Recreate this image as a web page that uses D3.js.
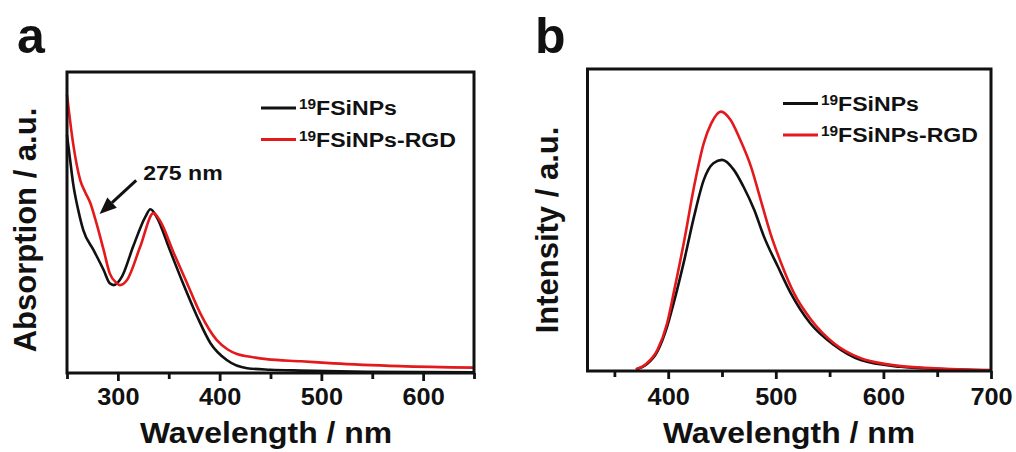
<!DOCTYPE html>
<html>
<head>
<meta charset="utf-8">
<script src="https://cdn.jsdelivr.net/npm/d3@7"></script>
<style>
  body { margin: 0; background: #fff; }
  text { font-family: "Liberation Sans", Arial, sans-serif; font-weight: bold; fill: #111; }
</style>
</head>
<body>
<div id="d3container"></div>
<script>
// panel a: absorption spectra
var absWl1 = [250, 253, 256, 261, 266, 276, 286, 292, 296, 304, 315, 327, 332, 338, 351, 364, 378, 391, 407, 427, 450, 479, 545, 650];
var absVal1 = [0.79, 0.71, 0.63, 0.542, 0.475, 0.409, 0.342, 0.298, 0.292, 0.32, 0.42, 0.519, 0.544, 0.519, 0.409, 0.298, 0.187, 0.099, 0.043, 0.016, 0.011, 0.008, 0.004, 0.002];
var absWl2 = [250, 256, 263, 268, 273, 279, 286, 292, 299, 302, 309, 322, 335, 341, 355, 368, 381, 397, 408, 417, 430, 446, 480, 512, 577, 650];
var absVal2 = [0.924, 0.763, 0.641, 0.6, 0.564, 0.497, 0.409, 0.331, 0.298, 0.292, 0.309, 0.42, 0.531, 0.508, 0.398, 0.298, 0.198, 0.11, 0.078, 0.063, 0.054, 0.046, 0.039, 0.032, 0.023, 0.018];

// panel b: emission spectra
var plWl1 = [370, 380, 390, 399, 405, 415, 424, 433, 442, 450, 461, 470, 480, 489, 502, 514, 532, 554, 579, 616, 650, 700];
var plVal1 = [0.005, 0.022, 0.065, 0.147, 0.224, 0.368, 0.511, 0.632, 0.688, 0.699, 0.666, 0.61, 0.533, 0.445, 0.345, 0.257, 0.158, 0.086, 0.036, 0.014, 0.007, 0.002];
var plWl2 = [370, 380, 390, 399, 405, 415, 424, 433, 440, 449, 458, 467, 477, 486, 495, 505, 517, 533, 554, 579, 604, 647, 700];
var plVal2 = [0.006, 0.025, 0.07, 0.158, 0.257, 0.434, 0.61, 0.754, 0.82, 0.859, 0.831, 0.765, 0.676, 0.566, 0.456, 0.357, 0.257, 0.169, 0.092, 0.042, 0.022, 0.009, 0.003];

var legendSup = '19';
var legendNames = ['FSiNPs', 'FSiNPs-RGD'];
var seriesColors = ['#111111', '#e3191c'];

var ticksA = [300, 400, 500, 600];
var minorA = [250, 350, 450, 550, 650];
var ticksB = [400, 500, 600, 700];
var minorB = [350, 450, 550, 650];

var annotText = '275 nm';
var annotFrom = [318, 0.64];
var annotTo = [282, 0.528];

var xTitle = 'Wavelength / nm';
var yTitles = ['Absorption / a.u.', 'Intensity / a.u.'];
var panelLetters = ['a', 'b'];

var svg = d3.select('#d3container').append('svg')
    .attr('width', 1016)
    .attr('height', 452);

svg.append('rect').attr('width', 1016).attr('height', 452).attr('fill', '#fff');

var stretch = 'scale(1.1,1)';

function zip(xs, ys) {
    return xs.map(function (x, i) { return {x: x, y: ys[i]}; });
}

var panels = [
    {
        left: 67, right: 474, top: 72, bottom: 373, domain: [250, 650],
        ticks: ticksA, minor: minorA,
        series: [zip(absWl1, absVal1), zip(absWl2, absVal2)],
        legendX: 261, legendY: 108, titleX: 36, xTitleX: 266, letterX: 17
    },
    {
        left: 587.5, right: 991, top: 69, bottom: 371, domain: [325, 700],
        ticks: ticksB, minor: minorB,
        series: [zip(plWl1, plVal1), zip(plWl2, plVal2)],
        legendX: 783, legendY: 103.5, titleX: 558, xTitleX: 789, letterX: 535
    }
];

panels.forEach(function (p, k) {
    var x = d3.scaleLinear().domain(p.domain).range([p.left, p.right]);
    var y = d3.scaleLinear().domain([0, 1]).range([p.bottom, p.top]);
    var g = svg.append('g').attr('class', 'panel' + k);

    /*
     minor ticks first, then major ticks with labels
     */
    var minorAxis = d3.axisBottom(x).tickValues(p.minor).tickSize(6).tickFormat('');
    g.append('g')
        .attr('transform', 'translate(0,' + p.bottom + ')')
        .call(minorAxis)
        .call(function (a) { a.select('.domain').remove(); })
        .selectAll('line').attr('stroke', '#111').attr('stroke-width', 2.8);

    var majorAxis = d3.axisBottom(x).tickValues(p.ticks).tickSize(8).tickFormat(d3.format('d'));
    var ax = g.append('g')
        .attr('transform', 'translate(0,' + p.bottom + ')')
        .call(majorAxis);
    ax.select('.domain').remove();
    ax.selectAll('line').attr('stroke', '#111').attr('stroke-width', 2.8);
    ax.selectAll('text')
        .attr('y', 405 - p.bottom)
        .attr('dy', 0)
        .attr('transform', stretch)
        .style('font-size', '23px')
        .style('font-family', '"Liberation Sans", Arial, sans-serif')
        .style('font-weight', 'bold')
        .attr('fill', '#111');

    var line = d3.line()
        .x(function (d) { return x(d.x); })
        .y(function (d) { return y(d.y); })
        .curve(d3.curveMonotoneX);

    p.series.forEach(function (s, i) {
        g.append('path')
            .attr('fill', 'none')
            .attr('stroke', seriesColors[i])
            .attr('stroke-width', 2.6)
            .attr('stroke-linejoin', 'round')
            .attr('d', line(s));
    });

    // frame
    g.append('rect')
        .attr('x', p.left).attr('y', p.top)
        .attr('width', p.right - p.left).attr('height', p.bottom - p.top)
        .attr('fill', 'none').attr('stroke', '#111').attr('stroke-width', 3);

    // legend
    legendNames.forEach(function (name, i) {
        var ly = p.legendY + i * 31.5;
        g.append('line')
            .attr('x1', p.legendX).attr('x2', p.legendX + 35)
            .attr('y1', ly).attr('y2', ly)
            .attr('stroke', seriesColors[i]).attr('stroke-width', 3);
        var t = g.append('text')
            .attr('transform', 'translate(' + (p.legendX + 38) + ',' + (ly + 7) + ') ' + stretch)
            .style('font-size', '21px');
        t.append('tspan').text(legendSup).style('font-size', '14px').attr('dy', -6);
        t.append('tspan').text(name).attr('dy', 6);
    });

    // axis titles
    g.append('text')
        .attr('transform', 'translate(' + p.xTitleX + ',443) ' + stretch)
        .attr('text-anchor', 'middle')
        .style('font-size', '29px')
        .text(xTitle);

    g.append('text')
        .attr('transform', 'translate(' + p.titleX + ',230) rotate(-90)')
        .attr('text-anchor', 'middle')
        .style('font-size', '31px')
        .text(yTitles[k]);

    g.append('text')
        .attr('x', p.letterX).attr('y', 53)
        .style('font-size', '50px')
        .attr('fill', '#231815')
        .text(panelLetters[k]);

    // arrow annotation in panel a
    if (k === 0) {
        var x0 = x(annotFrom[0]), y0 = y(annotFrom[1]);
        var x1 = x(annotTo[0]), y1 = y(annotTo[1]);
        var ang = Math.atan2(y1 - y0, x1 - x0);
        var headLen = 17, headW = 7;
        var bx = x1 - headLen * Math.cos(ang), by = y1 - headLen * Math.sin(ang);
        g.append('line')
            .attr('x1', x0).attr('y1', y0).attr('x2', bx).attr('y2', by)
            .attr('stroke', '#111').attr('stroke-width', 3);
        g.append('path')
            .attr('fill', '#111')
            .attr('d', 'M' + x1 + ',' + y1 +
                'L' + (bx + headW * Math.sin(ang)) + ',' + (by - headW * Math.cos(ang)) +
                'L' + (bx - headW * Math.sin(ang)) + ',' + (by + headW * Math.cos(ang)) + 'Z');
        g.append('text')
            .attr('transform', 'translate(' + (x0 + 7) + ',' + (y0 - 0.5) + ') ' + stretch)
            .style('font-size', '21px')
            .text(annotText);
    }
});
</script>
</body>
</html>
